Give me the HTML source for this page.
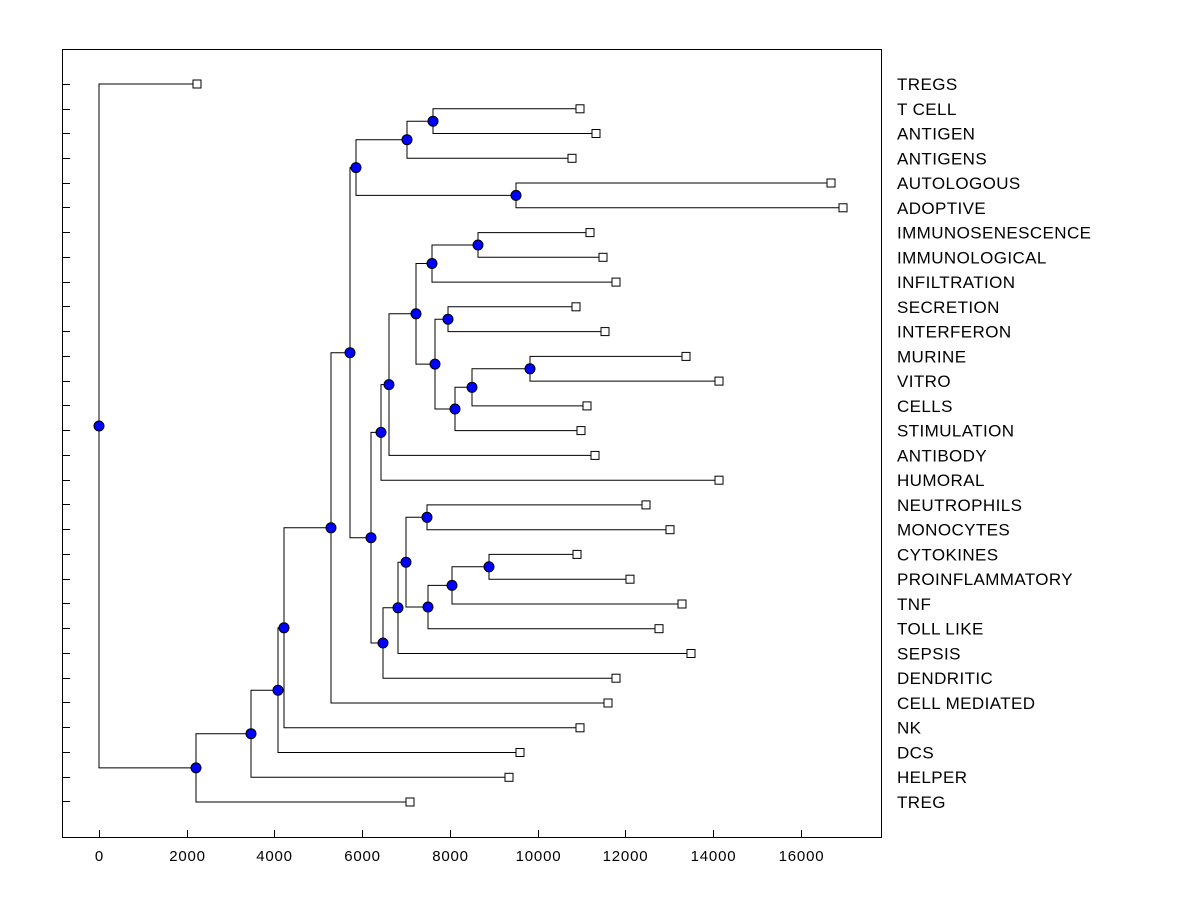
<!DOCTYPE html>
<html><head><meta charset="utf-8"><style>body{margin:0;background:#fff}svg{display:block}</style></head><body>
<svg width="1200" height="900" xmlns="http://www.w3.org/2000/svg" font-family="Liberation Sans, Arial, sans-serif">
<rect x="0" y="0" width="1200" height="900" fill="#fff"/>
<rect x="62.5" y="49.5" width="819" height="788" fill="none" stroke="#000" stroke-width="1"/>
<g stroke="#000" stroke-width="1">
<path d="M62 84.5h8M62 109.5h8M62 133.5h8M62 158.5h8M62 183.5h8M62 207.5h8M62 232.5h8M62 257.5h8M62 282.5h8M62 306.5h8M62 331.5h8M62 356.5h8M62 381.5h8M62 405.5h8M62 430.5h8M62 455.5h8M62 480.5h8M62 504.5h8M62 529.5h8M62 554.5h8M62 579.5h8M62 603.5h8M62 628.5h8M62 653.5h8M62 678.5h8M62 702.5h8M62 727.5h8M62 752.5h8M62 777.5h8M62 801.5h8"/>
<path d="M99.5 838v-8M187.5 838v-8M274.5 838v-8M362.5 838v-8M450.5 838v-8M538.5 838v-8M625.5 838v-8M713.5 838v-8M801.5 838v-8"/>
</g>
<g font-size="15" text-anchor="middle" fill="#000" letter-spacing="0.8" font-weight="bold" style="font-weight:500">
<text x="99.5" y="861">0</text><text x="187.5" y="861">2000</text><text x="274.5" y="861">4000</text><text x="362.5" y="861">6000</text><text x="450.5" y="861">8000</text><text x="538.5" y="861">10000</text><text x="625.5" y="861">12000</text><text x="713.5" y="861">14000</text><text x="801.5" y="861">16000</text>
</g>
<g fill="none" stroke="#000" stroke-width="1">
<path d="M197 84H99V767.9H196"/>
<path d="M251 733.7H196V802H410"/>
<path d="M278 690.2H251V777.3H509"/>
<path d="M284 627.8H278V752.5H520"/>
<path d="M331 527.8H284V727.8H580"/>
<path d="M350 352.7H331V703H608"/>
<path d="M356 167.6H350V537.7H371"/>
<path d="M407 139.7H356V195.4H516"/>
<path d="M433 121.2H407V158.3H572"/>
<path d="M580 108.8H433V133.5H596"/>
<path d="M831 183H516V207.8H843"/>
<path d="M381 432.4H371V643H383"/>
<path d="M389 384.6H381V480.2H719"/>
<path d="M416 313.8H389V455.4H595"/>
<path d="M432 263.5H416V364.1H435"/>
<path d="M478 245H432V282.1H616"/>
<path d="M590 232.6H478V257.3H603"/>
<path d="M448 319.2H435V409H455"/>
<path d="M576 306.8H448V331.6H605"/>
<path d="M472 387.3H455V430.6H581"/>
<path d="M530 368.8H472V405.9H587"/>
<path d="M686 356.4H530V381.1H719"/>
<path d="M398 607.8H383V678.2H616"/>
<path d="M406 562.2H398V653.5H691"/>
<path d="M427 517.3H406V607H428"/>
<path d="M646 504.9H427V529.7H670"/>
<path d="M452 585.4H428V628.7H659"/>
<path d="M489 566.8H452V604H682"/>
<path d="M577 554.4H489V579.2H630"/>
</g>
<g fill="#0000ff" stroke="#000" stroke-width="1">
<circle cx="99" cy="426" r="5"/><circle cx="196" cy="767.9" r="5"/><circle cx="251" cy="733.7" r="5"/><circle cx="278" cy="690.2" r="5"/><circle cx="284" cy="627.8" r="5"/><circle cx="331" cy="527.8" r="5"/><circle cx="350" cy="352.7" r="5"/><circle cx="356" cy="167.6" r="5"/><circle cx="407" cy="139.7" r="5"/><circle cx="433" cy="121.2" r="5"/><circle cx="516" cy="195.4" r="5"/><circle cx="371" cy="537.7" r="5"/><circle cx="381" cy="432.4" r="5"/><circle cx="389" cy="384.6" r="5"/><circle cx="416" cy="313.8" r="5"/><circle cx="432" cy="263.5" r="5"/><circle cx="478" cy="245" r="5"/><circle cx="435" cy="364.1" r="5"/><circle cx="448" cy="319.2" r="5"/><circle cx="455" cy="409" r="5"/><circle cx="472" cy="387.3" r="5"/><circle cx="530" cy="368.8" r="5"/><circle cx="383" cy="643" r="5"/><circle cx="398" cy="607.8" r="5"/><circle cx="406" cy="562.2" r="5"/><circle cx="427" cy="517.3" r="5"/><circle cx="428" cy="607" r="5"/><circle cx="452" cy="585.4" r="5"/><circle cx="489" cy="566.8" r="5"/>
</g>
<g fill="#fff" stroke="#000" stroke-width="1">
<rect x="193" y="80" width="8" height="8"/><rect x="576" y="104.8" width="8" height="8"/><rect x="592" y="129.5" width="8" height="8"/><rect x="568" y="154.3" width="8" height="8"/><rect x="827" y="179" width="8" height="8"/><rect x="839" y="203.8" width="8" height="8"/><rect x="586" y="228.6" width="8" height="8"/><rect x="599" y="253.3" width="8" height="8"/><rect x="612" y="278.1" width="8" height="8"/><rect x="572" y="302.8" width="8" height="8"/><rect x="601" y="327.6" width="8" height="8"/><rect x="682" y="352.4" width="8" height="8"/><rect x="715" y="377.1" width="8" height="8"/><rect x="583" y="401.9" width="8" height="8"/><rect x="577" y="426.6" width="8" height="8"/><rect x="591" y="451.4" width="8" height="8"/><rect x="715" y="476.2" width="8" height="8"/><rect x="642" y="500.9" width="8" height="8"/><rect x="666" y="525.7" width="8" height="8"/><rect x="573" y="550.4" width="8" height="8"/><rect x="626" y="575.2" width="8" height="8"/><rect x="678" y="600" width="8" height="8"/><rect x="655" y="624.7" width="8" height="8"/><rect x="687" y="649.5" width="8" height="8"/><rect x="612" y="674.2" width="8" height="8"/><rect x="604" y="699" width="8" height="8"/><rect x="576" y="723.8" width="8" height="8"/><rect x="516" y="748.5" width="8" height="8"/><rect x="505" y="773.3" width="8" height="8"/><rect x="406" y="798" width="8" height="8"/>
</g>
<g font-size="17" fill="#000" letter-spacing="0.4">
<text x="897" y="90">TREGS</text><text x="897" y="115">T CELL</text><text x="897" y="139.5">ANTIGEN</text><text x="897" y="164.5">ANTIGENS</text><text x="897" y="189">AUTOLOGOUS</text><text x="897" y="214">ADOPTIVE</text><text x="897" y="238.5">IMMUNOSENESCENCE</text><text x="897" y="263.5">IMMUNOLOGICAL</text><text x="897" y="288">INFILTRATION</text><text x="897" y="313">SECRETION</text><text x="897" y="337.5">INTERFERON</text><text x="897" y="362.5">MURINE</text><text x="897" y="387">VITRO</text><text x="897" y="412">CELLS</text><text x="897" y="436.5">STIMULATION</text><text x="897" y="461.5">ANTIBODY</text><text x="897" y="486">HUMORAL</text><text x="897" y="511">NEUTROPHILS</text><text x="897" y="535.5">MONOCYTES</text><text x="897" y="560.5">CYTOKINES</text><text x="897" y="585">PROINFLAMMATORY</text><text x="897" y="610">TNF</text><text x="897" y="634.5">TOLL LIKE</text><text x="897" y="659.5">SEPSIS</text><text x="897" y="684">DENDRITIC</text><text x="897" y="709">CELL MEDIATED</text><text x="897" y="733.5">NK</text><text x="897" y="758.5">DCS</text><text x="897" y="783">HELPER</text><text x="897" y="808">TREG</text>
</g>
</svg>
</body></html>
